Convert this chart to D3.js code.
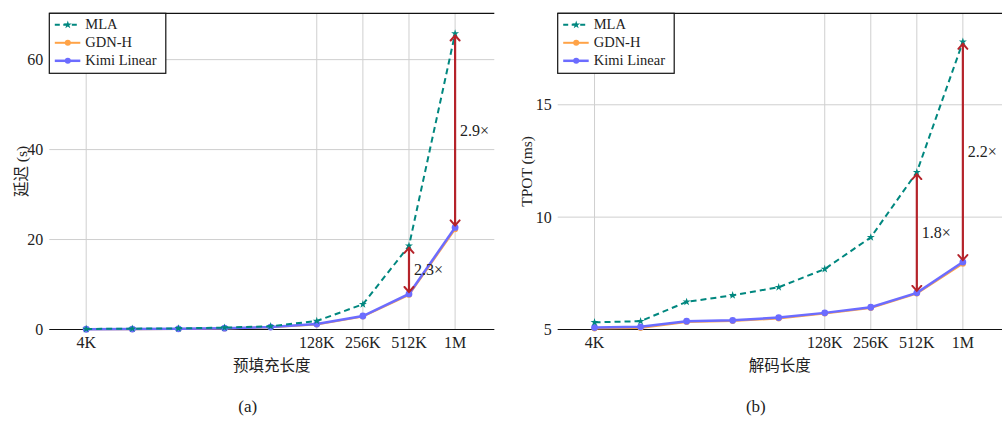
<!DOCTYPE html>
<html>
<head>
<meta charset="utf-8">
<script src="https://cdn.jsdelivr.net/npm/d3@7"></script>
<style>
  body { margin: 0; background: #fff; }
  text { font-family: "Liberation Serif", "DejaVu Serif", "Noto Sans CJK SC", serif; fill: #222; }
</style>
</head>
<body>
<div class="canvas"></div>
<script>
// sequence lengths (tokens), same for both panels
const lengths = [4096, 8192, 16384, 32768, 65536, 131072, 262144, 524288, 1048576];
const tickValues = [4096, 131072, 262144, 524288, 1048576];
const tickLabels = ['4K', '128K', '256K', '512K', '1M'];
const seriesNames = ['MLA', 'GDN-H', 'Kimi Linear'];

// (a) prefill latency (s)
const prefillMLA = [0.12, 0.18, 0.25, 0.42, 0.72, 1.9, 5.6, 18.6, 65.8];
const prefillGDN = [0.05, 0.08, 0.13, 0.25, 0.5, 1.1, 2.9, 7.7, 22.3];
const prefillKimi = [0.06, 0.1, 0.15, 0.3, 0.55, 1.2, 3.0, 7.9, 22.7];
const prefillYTicks = [0, 20, 40, 60];
const prefillRatios = [{ len: 524288, label: '2.3×' }, { len: 1048576, label: '2.9×' }];

// (b) decode TPOT (ms)
const decodeMLA = [5.32, 5.37, 6.23, 6.52, 6.88, 7.69, 9.1, 12.0, 17.8];
const decodeGDN = [5.05, 5.07, 5.33, 5.38, 5.49, 5.71, 5.96, 6.6, 7.93];
const decodeKimi = [5.09, 5.12, 5.37, 5.41, 5.53, 5.74, 5.99, 6.63, 8.0];
const decodeYTicks = [5, 10, 15];
const decodeRatios = [{ len: 524288, label: '1.8×' }, { len: 1048576, label: '2.2×' }];

const colors = { 'MLA': '#00877f', 'GDN-H': '#ffa347', 'Kimi Linear': '#6c6cff' };
const arrowColor = '#b5232a';

const svg = d3.select('.canvas')
  .append('svg')
  .attr('width', 1005)
  .attr('height', 422);

const defs = svg.append('defs');
defs.append('marker')
  .attr('id', 'head')
  .attr('viewBox', '-6 -6 12 12')
  .attr('refX', 0).attr('refY', 0)
  .attr('markerWidth', 12).attr('markerHeight', 12)
  .attr('markerUnits', 'userSpaceOnUse')
  .attr('orient', 'auto-start-reverse')
  .append('path')
  .attr('d', 'M-5,-4.5 L0,0 L-5,4.5')
  .attr('fill', 'none')
  .attr('stroke', arrowColor)
  .attr('stroke-width', 2)
  .attr('stroke-linecap', 'round');

const star = d3.symbol().type(d3.symbolStar).size(20);

function panel(opts) {
  const top = 13.3, bottom = 329.5;
  const x = d3.scaleLog().base(2)
    .domain([4096 / Math.pow(2, 0.8), 1048576 * Math.pow(2, 0.85)])
    .range([opts.left, opts.right]);
  const y = d3.scaleLinear().domain(opts.yDomain).range([bottom, top]);
  const g = svg.append('g');

  // grid
  g.selectAll('.vgrid').data(tickValues).join('line')
    .attr('x1', d => x(d)).attr('x2', d => x(d))
    .attr('y1', top).attr('y2', bottom)
    .attr('stroke', '#cfcfcf').attr('stroke-width', 1);
  g.selectAll('.hgrid').data(opts.yTicks).join('line')
    .attr('x1', opts.left).attr('x2', opts.right)
    .attr('y1', d => y(d)).attr('y2', d => y(d))
    .attr('stroke', '#cfcfcf').attr('stroke-width', 1);

  // top and bottom axis lines
  g.append('line').attr('x1', opts.left).attr('x2', opts.right)
    .attr('y1', top).attr('y2', top).attr('stroke', '#111').attr('stroke-width', 1.2);
  g.append('line').attr('x1', opts.left).attr('x2', opts.right)
    .attr('y1', bottom).attr('y2', bottom).attr('stroke', '#111').attr('stroke-width', 1.2);

  // tick labels
  g.selectAll('.xt').data(tickValues).join('text')
    .attr('x', d => x(d)).attr('y', 347.5)
    .attr('text-anchor', 'middle').attr('font-size', 16)
    .text((d, i) => tickLabels[i]);
  g.selectAll('.yt').data(opts.yTicks).join('text')
    .attr('x', opts.left - 6).attr('y', d => y(d) + 5.5)
    .attr('text-anchor', 'end').attr('font-size', 16)
    .text(d => d);

  // axis titles
  g.append('text')
    .attr('x', (opts.left + opts.right) / 2).attr('y', 371)
    .attr('text-anchor', 'middle').attr('font-size', 15.5)
    .text(opts.xTitle);
  g.append('text')
    .attr('transform', `translate(${opts.yTitleX},${(top + bottom) / 2}) rotate(-90)`)
    .attr('text-anchor', 'middle').attr('font-size', 15.5)
    .text(opts.yTitle);
  g.append('text')
    .attr('x', (opts.left + opts.right) / 2 - 24).attr('y', 412)
    .attr('text-anchor', 'middle').attr('font-size', 17)
    .text(opts.caption);

  const line = d3.line().x(d => x(d[0])).y(d => y(d[1]));
  const pts = vals => lengths.map((l, i) => [l, vals[i]]);

  // GDN-H
  g.append('path').datum(pts(opts.gdn))
    .attr('d', line).attr('fill', 'none')
    .attr('stroke', colors['GDN-H']).attr('stroke-width', 2);
  g.selectAll('.gdn').data(pts(opts.gdn)).join('circle')
    .attr('cx', d => x(d[0])).attr('cy', d => y(d[1])).attr('r', 3)
    .attr('fill', colors['GDN-H']);

  // Kimi Linear
  g.append('path').datum(pts(opts.kimi))
    .attr('d', line).attr('fill', 'none')
    .attr('stroke', colors['Kimi Linear']).attr('stroke-width', 2.5);
  g.selectAll('.kimi').data(pts(opts.kimi)).join('circle')
    .attr('cx', d => x(d[0])).attr('cy', d => y(d[1])).attr('r', 3.4)
    .attr('fill', colors['Kimi Linear']);

  // MLA
  g.append('path').datum(pts(opts.mla))
    .attr('d', line).attr('fill', 'none')
    .attr('stroke', colors['MLA']).attr('stroke-width', 2)
    .attr('stroke-dasharray', '6,4');
  g.selectAll('.mla').data(pts(opts.mla)).join('path')
    .attr('transform', d => `translate(${x(d[0])},${y(d[1])})`)
    .attr('d', star).attr('fill', colors['MLA']);

  // ratio arrows
  opts.ratios.forEach(r => {
    const i = lengths.indexOf(r.len);
    const hi = opts.mla[i], lo = opts.kimi[i];
    g.append('line')
      .attr('x1', x(r.len)).attr('x2', x(r.len))
      .attr('y1', y(hi) + 2).attr('y2', y(lo) - 2)
      .attr('stroke', arrowColor).attr('stroke-width', 2.2)
      .attr('marker-start', 'url(#head)').attr('marker-end', 'url(#head)');
    g.append('text')
      .attr('x', x(r.len) + 5).attr('y', y((hi + lo) / 2) + 5.5)
      .attr('font-size', 16)
      .text(r.label);
  });

  // legend
  const lg = g.append('g').attr('transform', `translate(${opts.left},${top})`);
  lg.append('rect').attr('width', 116.5).attr('height', 60)
    .attr('fill', '#fff').attr('stroke', '#111').attr('stroke-width', 1.2);
  seriesNames.forEach((name, i) => {
    const cy = 11.5 + i * 18;
    lg.append('line').attr('x1', 5.5).attr('x2', 31).attr('y1', cy).attr('y2', cy)
      .attr('stroke', colors[name])
      .attr('stroke-width', name === 'Kimi Linear' ? 2.5 : 2)
      .attr('stroke-dasharray', name === 'MLA' ? '5,3.5' : null);
    if (name === 'MLA') {
      lg.append('path').attr('transform', `translate(18.5,${cy})`)
        .attr('d', star).attr('fill', colors[name]);
    } else {
      lg.append('circle').attr('cx', 18.5).attr('cy', cy).attr('r', 3)
        .attr('fill', colors[name]);
    }
    lg.append('text').attr('x', 36).attr('y', cy + 4.5)
      .attr('font-size', 14.5).text(name);
  });
}

panel({
  left: 49.3, right: 494.3, yDomain: [0, 70.3], yTicks: prefillYTicks,
  mla: prefillMLA, gdn: prefillGDN, kimi: prefillKimi, ratios: prefillRatios,
  xTitle: '预填充长度', yTitle: '延迟 (s)', yTitleX: 27, caption: '(a)'
});
panel({
  left: 557.7, right: 1002, yDomain: [5, 19.07], yTicks: decodeYTicks,
  mla: decodeMLA, gdn: decodeGDN, kimi: decodeKimi, ratios: decodeRatios,
  xTitle: '解码长度', yTitle: 'TPOT (ms)', yTitleX: 532, caption: '(b)'
});
</script>
</body>
</html>
